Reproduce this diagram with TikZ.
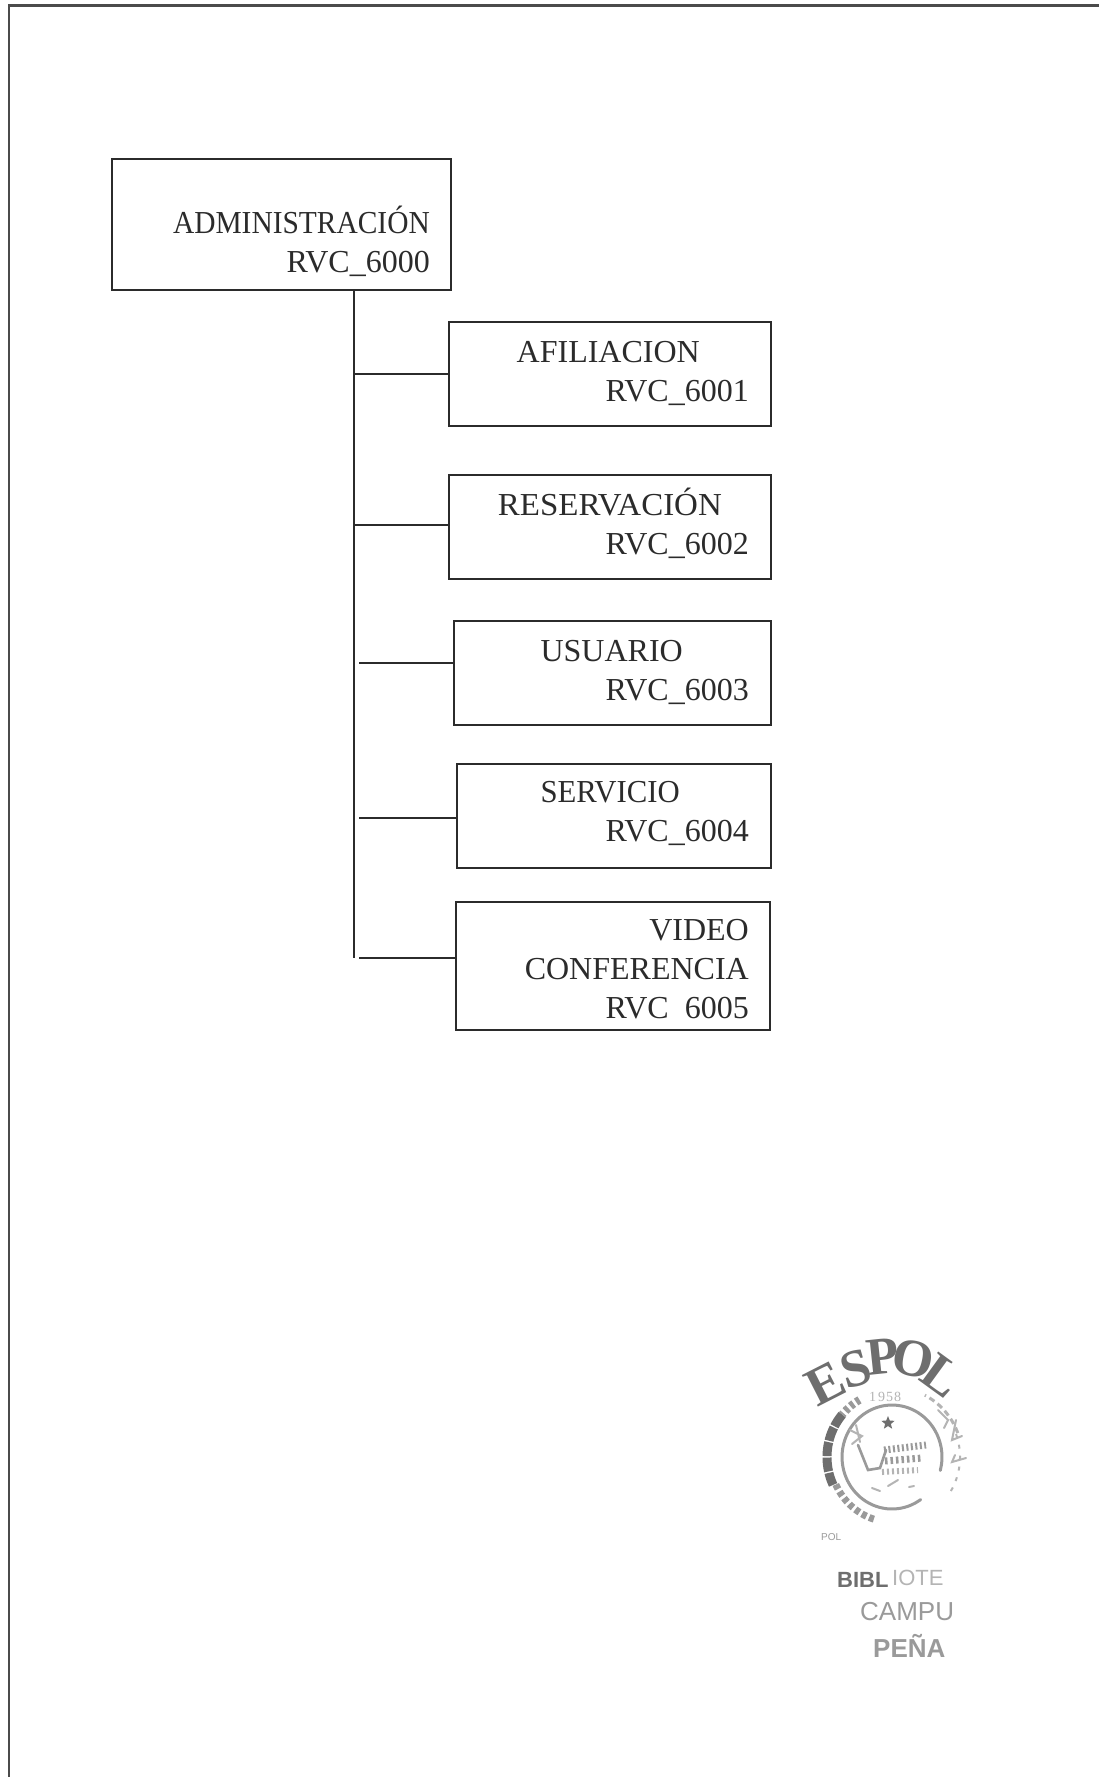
\documentclass[tikz,border=0pt]{standalone}
\usepackage{fontspec}
\setmainfont{Liberation Serif}
\newfontfamily\stampsans{Liberation Sans}
\usetikzlibrary{shapes.geometric}
\definecolor{ink}{HTML}{2B2B2B}
\definecolor{stampdark}{HTML}{6E6E6E}
\definecolor{stampmid}{HTML}{9A9A9A}
\definecolor{stamplight}{HTML}{B4B4B4}
\tikzset{
  boxnode/.style={draw=ink,line width=2pt,rectangle,inner sep=0pt,fill=white},
  labelnode/.style={text=ink,inner sep=0pt,anchor=north east,align=right,font=\fontsize{32}{39.2}\selectfont},
  wire/.style={draw=ink,line width=2pt},
  seal/.style={text=stampdark,inner sep=0pt,font=\bfseries\fontsize{53}{53}\selectfont},
  sealsans/.style={inner sep=0pt,anchor=west,font=\stampsans\bfseries\fontsize{25}{25}\selectfont},
  ring/.style={draw=stampmid,line width=3pt,line cap=round},
  flake/.style={draw=stamplight,line width=2pt,line cap=round},
}
\newcommand{\ringarc}[5][ring]{\draw[#1] plot[smooth,domain=#4:#5,samples=40] ({892+#2*cos(\x)},{1457-#3*sin(\x)});}
\newcommand{\squeeze}[2]{\scalebox{#1}[1]{#2}}
\begin{document}
\begin{tikzpicture}[x=1pt,y=-1pt]
\useasboundingbox (0,0) rectangle (1099,1777);
\fill[white] (0,0) rectangle (1099,1777);
% page frame
\coordinate (ftl) at (9,5.5);
\coordinate (ftr) at (1099,5.5);
\coordinate (fbl) at (9,1777);
\draw[draw=ink!85,line width=2.6pt] (ftr) -- (ftl) -- (fbl);
% boxes
\node[boxnode,minimum width=339pt,minimum height=131pt] (admin) at (281.5,224.5) {};
\node[boxnode,minimum width=322pt,minimum height=104pt] (afil) at (610,374) {};
\node[boxnode,minimum width=322pt,minimum height=104pt] (resv) at (610,527) {};
\node[boxnode,minimum width=317pt,minimum height=104pt] (usua) at (612.5,673) {};
\node[boxnode,minimum width=314pt,minimum height=104pt] (serv) at (614,816) {};
\node[boxnode,minimum width=314pt,minimum height=128pt] (vide) at (613,966) {};
% labels
\node[labelnode] (ladmin) at (430,206) {\squeeze{0.92}{ADMINISTRACIÓN}\\RVC\_6000};
\node[labelnode] (lafil) at (749,341) {AFILIACION\hspace{49pt}\mbox{}\\RVC\_6001};
\node[labelnode] (lresv) at (749,488) {\squeeze{1.03}{RESERVACIÓN}\hspace{27pt}\mbox{}\\RVC\_6002};
\node[labelnode] (lusua) at (749,640) {USUARIO\hspace{66pt}\mbox{}\\RVC\_6003};
\node[labelnode] (lserv) at (749,781) {\squeeze{0.96}{SERVICIO}\hspace{69pt}\mbox{}\\RVC\_6004};
\node[labelnode] (lvide) at (749,919) {VIDEO\\CONFERENCIA\\RVC\ \ 6005};
% connectors
\coordinate (trunkend) at (354,958);
\coordinate (j1) at (354,374);
\coordinate (j2) at (354,525);
\coordinate (j3) at (359,663);
\coordinate (j4) at (359,818);
\coordinate (j5) at (359,958);
\draw[wire] (admin.south -| trunkend) -- (trunkend);
\draw[wire] (j1) -- (j1 -| afil.west);
\draw[wire] (j2) -- (j2 -| resv.west);
\draw[wire] (j3) -- (j3 -| usua.west);
\draw[wire] (j4) -- (j4 -| serv.west);
\draw[wire] (j5) -- (j5 -| vide.west);
% stamp: ESPOL
\node[seal,rotate=27,font=\bfseries\fontsize{54}{54}\selectfont] (sE) at (826,1384) {E};
\node[seal,rotate=16] (sS) at (856,1369) {S};
\node[seal,rotate=6] (sP) at (883,1357) {P};
\node[seal,rotate=-12] (sO) at (913,1359) {O};
\node[seal,rotate=-36] (sL) at (942,1376) {L};
\node[inner sep=0pt,text=stamplight,font=\fontsize{14}{14}\selectfont] (syear) at (885,1397) {1\hspace{2pt}9\hspace{1pt}5\hspace{1pt}8};
\node[star,star points=5,star point ratio=2.3,fill=stampdark,inner sep=0pt,minimum size=14pt] (sstar) at (888,1423) {};
% stamp: rings
\ringarc{50}{52}{-15}{305}
\ringarc[draw=stampdark,line width=9pt,dash pattern=on 14pt off 1.5pt]{65}{66}{140}{205}
\ringarc[draw=stampmid,line width=8pt,dash pattern=on 4pt off 3pt]{65}{66}{120}{140}
\ringarc[draw=stampmid,line width=7pt,dash pattern=on 5pt off 3pt]{62}{65}{205}{255}
\ringarc[draw=stamplight,line width=3pt,dash pattern=on 6pt off 4pt]{70}{70}{20}{62}
\ringarc[draw=stamplight,line width=2pt,dash pattern=on 4pt off 7pt]{68}{68}{-30}{20}
% stamp: emblem
\draw[draw=stampmid,line width=2.6pt,line cap=round] (858,1445) -- (868,1470) -- (880,1468) -- (886,1450);
\draw[draw=stampmid,line width=7pt,dash pattern=on 2pt off 2.5pt] (884,1450) -- (926,1445);
\draw[draw=stampmid,line width=7pt,dash pattern=on 2.5pt off 3pt] (885,1461) -- (922,1458);
\draw[draw=stamplight,line width=6pt,dash pattern=on 2pt off 3pt] (882,1472) -- (918,1470);
\draw[flake] (850,1430) -- (862,1436) -- (852,1444);
\draw[flake] (856,1425) -- (860,1442);
\draw[flake] (872,1488) -- (880,1491);
\draw[flake] (888,1486) -- (898,1480);
\draw[flake] (909,1487) -- (914,1486);
\draw[flake] (938,1410) -- (948,1420) -- (944,1428);
\draw[flake] (956,1420) -- (952,1440) -- (962,1436);
\draw[flake] (955,1455) -- (952,1462) -- (966,1458);
% stamp: text
\node[sealsans,text=stampmid,font=\stampsans\fontsize{10}{10}\selectfont] (spol) at (821,1537) {POL};
\node[sealsans,text=stampdark,font=\stampsans\bfseries\fontsize{22}{22}\selectfont] (sbib) at (837,1580) {BIBL};
\node[sealsans,text=stamplight,font=\stampsans\fontsize{22}{22}\selectfont] (siot) at (892,1578) {IOTE};
\node[sealsans,text=stampmid,font=\stampsans\fontsize{26}{26}\selectfont] (scam) at (860,1612) {CAMPU};
\node[sealsans,text=stampmid,font=\stampsans\bfseries\fontsize{26}{26}\selectfont] (spen) at (873,1646) {PEÑA};
\end{tikzpicture}
\end{document}
